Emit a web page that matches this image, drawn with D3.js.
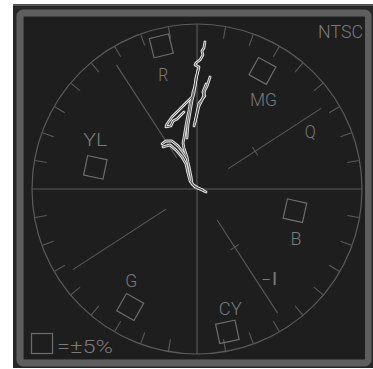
<!DOCTYPE html>
<html><head><meta charset="utf-8">
<script src="https://cdn.jsdelivr.net/npm/d3@7"></script>
<style>html,body{margin:0;padding:0;background:#fff;}svg{display:block;}</style>
</head><body>
<script>
// ---- data ----
const targetNames = ["R", "MG", "B", "CY", "G", "YL"];
const targetAngles = [104, 61, 347.5, 282, 240.5, 168];      // degrees
const targetMagnitudes = [89.4, 81.8, 60.8, 88.5, 82.2, 63];  // percent of graticule radius
const axisNames = ["Q", "-I"];
const axisAngles = [33, 303];
const axisLabelMagnitudes = [77, 70];
const axisLabelAngles = [27, 309.4];
const iqLineAngles = [33, 123, 213, 303];
const graticuleTickAngles = d3.range(0, 360, 10);
const standardName = "NTSC";
const toleranceLabel = "=±5%";
// vector trace, (u, v) pairs in percent
const traceSpine = [[4.8,89.1],[4.2,85.5],[3.0,83.6],[3.6,81.2],[1.8,78.2],[-0.6,76.4],[-1.2,75.2],[1.2,73.9],[0.6,71.5],[-0.6,67.3],[-1.2,62.4],[-2.4,58.8],[-3.0,55.2],[-4.2,51.5],[-4.8,47.9],[-5.5,44.8],[-6.7,38.2],[-7.3,34.5],[-7.9,30.9],[-8.5,27.9],[-7.9,24.8],[-6.7,21.2],[-6.1,19.4],[-5.5,16.4],[-4.8,13.3],[-4.2,10.3],[-3.6,7.3],[-3.0,3.0],[0.6,0.6],[5.5,-1.8]];
const traceSpineInner = [[0.6,72.1],[-1.2,63.0],[-1.8,58.2],[-3.0,53.9],[-4.2,46.7],[-5.5,38.8],[-6.1,30.9]];
const traceSpike = [[7.9,67.9],[6.7,64.2],[6.1,62.4],[4.8,60.0],[4.2,57.6],[3.6,55.2],[2.4,52.7],[1.2,50.3],[0.6,47.9],[-0.6,43.0],[-1.8,38.2]];
const traceSpikeInner = [[5.5,63.6],[3.6,58.8],[4.8,56.4],[1.2,52.1],[-1.2,40.6]];
const traceBranch = [[-3.0,55.8],[-6.7,52.1],[-10.9,47.9],[-15.2,43.6],[-18.2,39.4],[-18.8,37.6],[-15.8,38.2],[-14.5,41.2],[-12.1,42.4],[-7.9,46.7]];
const traceHook = [[-21.2,27.3],[-18.8,29.1],[-15.2,29.1],[-11.5,26.1],[-8.5,22.4],[-6.1,18.8]];
const traceHookLower = [[-20.6,25.5],[-16.4,26.7],[-12.7,23.6],[-9.1,19.4],[-6.7,15.2],[-5.5,9.7],[-4.2,4.8],[-1.2,1.2],[3.6,-0.6]];
const traceStrokes = [traceSpine, traceSpineInner, traceSpike, traceSpikeInner, traceBranch, traceHook, traceHookLower];

// ---- layout ----
const W = 373, H = 369;
const cx = 197, cy = 189, R = 165;
const labelOffsets = {R:[2,29], MG:[1,29], B:[1,28], CY:[3,-23], G:[1,-27], YL:[0,-28]};
const labelWidths = {R:10, MG:27, B:11, CY:23, G:12, YL:24, Q:11, "-I":17};
const gratColor = "#5b5b5b", textColor = "#7a7a7a";
const fontFam = "Roboto,'Liberation Sans Narrow','DejaVu Sans Condensed',sans-serif";

const svg = d3.select("body").append("svg").attr("width", W).attr("height", H);

// frame
svg.append("rect").attr("x", 13).attr("y", 4).attr("width", 360).attr("height", 364).attr("fill", "#262626");
svg.append("line").attr("x1", 13).attr("x2", 373).attr("y1", 5).attr("y2", 5).attr("stroke", "#555").attr("stroke-width", 2);
svg.append("rect").attr("x", 20).attr("y", 13).attr("width", 348).attr("height", 350).attr("rx", 3)
  .attr("fill", "none").attr("stroke", "#5e5e5e").attr("stroke-width", 7);
svg.append("rect").attr("x", 24).attr("y", 17).attr("width", 341).attr("height", 342).attr("fill", "#1e1e1e");

const x = d3.scaleLinear().domain([-100, 100]).range([cx - R, cx + R]);
const y = d3.scaleLinear().domain([-100, 100]).range([cy + R, cy - R]);
const rad = d => d * Math.PI / 180;
const polar = (a, m) => [x(m * Math.cos(rad(a))), y(m * Math.sin(rad(a)))];

const g = svg.append("g");
g.append("circle").attr("cx", x(0)).attr("cy", y(0)).attr("r", x(100) - x(0))
  .attr("fill", "none").attr("stroke", gratColor).attr("stroke-width", 1.2);
g.selectAll(".ctick").data(graticuleTickAngles.filter(a => a % 90 !== 0)).join("line")
  .each(function(a) {
    const p1 = polar(a, 92.5), p2 = polar(a, 99.6);
    d3.select(this).attr("x1", p1[0]).attr("y1", p1[1]).attr("x2", p2[0]).attr("y2", p2[1]);
  })
  .attr("stroke", gratColor).attr("stroke-width", 1.1);
g.append("line").attr("x1", x(-100)).attr("x2", x(100)).attr("y1", y(0)).attr("y2", y(0)).attr("stroke", gratColor).attr("stroke-width", 1.1);
g.append("line").attr("x1", x(0)).attr("x2", x(0)).attr("y1", y(100)).attr("y2", y(-100)).attr("stroke", gratColor).attr("stroke-width", 1.1);
g.selectAll(".iq").data(iqLineAngles).join("line")
  .each(function(a) {
    const p1 = polar(a, 22.4), p2 = polar(a, 89.7);
    d3.select(this).attr("x1", p1[0]).attr("y1", p1[1]).attr("x2", p2[0]).attr("y2", p2[1]);
  })
  .attr("stroke", gratColor).attr("stroke-width", 1.1);
g.selectAll(".xt").data(axisAngles).join("line")
  .each(function(a) {
    const c = polar(a, 42), pa = rad(a + 90), h = 5;
    d3.select(this).attr("x1", c[0] - h * Math.cos(pa)).attr("y1", c[1] + h * Math.sin(pa))
      .attr("x2", c[0] + h * Math.cos(pa)).attr("y2", c[1] - h * Math.sin(pa));
  })
  .attr("stroke", gratColor).attr("stroke-width", 1.1);

const boxHalf = 6;
targetNames.forEach((n, i) => {
  const a = targetAngles[i], m = targetMagnitudes[i];
  const c = polar(a, m);
  const s = x(boxHalf) - x(0);
  g.append("rect").attr("x", -s).attr("y", -s).attr("width", 2 * s).attr("height", 2 * s)
    .attr("transform", `translate(${c[0]},${c[1]}) rotate(${90 - a})`)
    .attr("fill", "none").attr("stroke", "#6e6e6e").attr("stroke-width", 1.2);
  const o = labelOffsets[n];
  g.append("text").attr("x", c[0] + o[0]).attr("y", c[1] + o[1] + 6.5)
    .attr("text-anchor", "middle").attr("font-family", fontFam).attr("font-weight", 300).attr("font-size", 18)
    .attr("fill", textColor).attr("textLength", labelWidths[n]).attr("lengthAdjust", "spacingAndGlyphs")
    .text(n);
});
axisNames.forEach((n, i) => {
  const c = polar(axisLabelAngles[i], axisLabelMagnitudes[i]);
  g.append("text").attr("x", c[0]).attr("y", c[1] + 6.5)
    .attr("text-anchor", "middle").attr("font-family", fontFam).attr("font-weight", 300).attr("font-size", 18)
    .attr("fill", textColor).attr("textLength", labelWidths[n]).attr("lengthAdjust", "spacingAndGlyphs")
    .text(n);
});
svg.append("text").attr("x", 363).attr("y", 38).attr("text-anchor", "end")
  .attr("font-family", fontFam).attr("font-weight", 300).attr("font-size", 18).attr("fill", textColor)
  .attr("textLength", 45).attr("lengthAdjust", "spacingAndGlyphs").text(standardName);
svg.append("rect").attr("x", 31.5).attr("y", 333.5).attr("width", 21).attr("height", 20)
  .attr("fill", "none").attr("stroke", "#6e6e6e").attr("stroke-width", 1.2);
svg.append("text").attr("x", 57).attr("y", 353)
  .attr("font-family", fontFam).attr("font-weight", 300).attr("font-size", 19).attr("fill", textColor)
  .attr("textLength", 56).attr("lengthAdjust", "spacingAndGlyphs").text(toleranceLabel);

const line = d3.line().x(d => x(d[0])).y(d => y(d[1]));
const tg = svg.append("g");
tg.selectAll("path.o").data(traceStrokes).join("path").attr("class", "o")
  .attr("d", line).attr("fill", "none").attr("stroke", "#e6e6e6").attr("stroke-width", 2.8)
  .attr("stroke-linejoin", "round").attr("stroke-linecap", "round");
tg.selectAll("path.i").data(traceStrokes).join("path").attr("class", "i")
  .attr("d", line).attr("fill", "none").attr("stroke", "#2a2a2a").attr("stroke-width", 0.7)
  .attr("stroke-linejoin", "round").attr("stroke-linecap", "round");
</script>
</body></html>
